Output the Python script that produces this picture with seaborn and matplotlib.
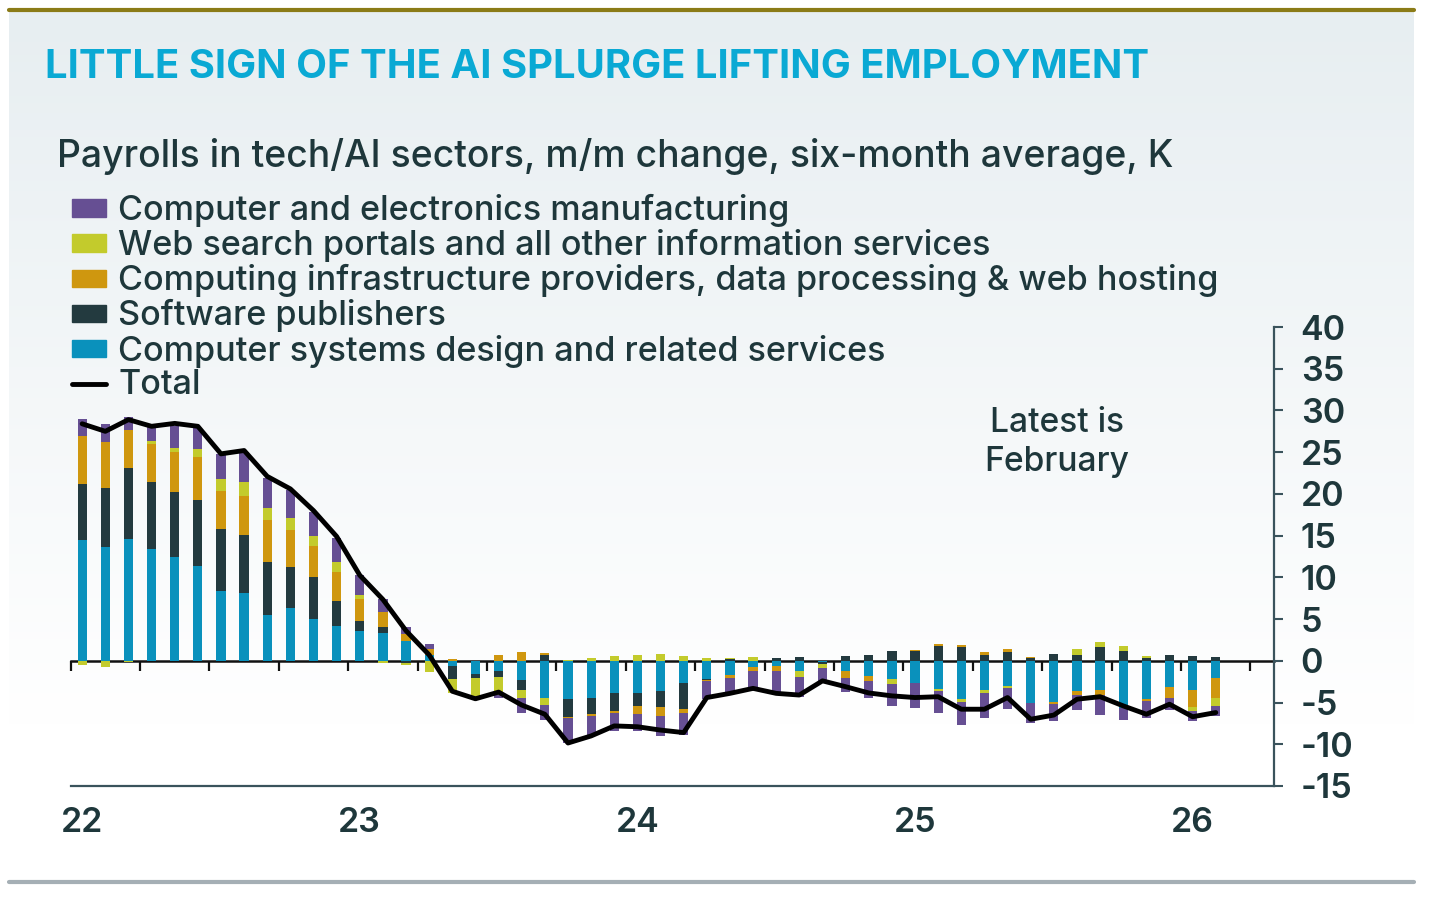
import numpy as np
import pandas as pd
import matplotlib
matplotlib.use("Agg")
import matplotlib.pyplot as plt
import seaborn as sns
from matplotlib.patches import Patch
from matplotlib.lines import Line2D
from matplotlib.colors import LinearSegmentedColormap

# ---------------- data (K, m/m change, six-month average) ----------------
months = pd.period_range("2022-01", "2026-02", freq="M")
year_labels = ["22", "23", "24", "25", "26"]

systems_design = [14.5, 13.6, 14.6, 13.4, 12.5, 11.4, 8.35, 8.1, 5.45, 6.3,
                  5.0, 4.2, 3.6, 3.3, 2.4, 0.75, -0.67, -1.54, -1.26, -2.25,
                  -4.4, -4.6, -4.5, -3.8, -3.9, -3.64, -2.65, -2.13, -1.66, -0.8,
                  -0.67, -1.2, -0.2, -1.2, -1.86, -2.17, -2.65, -3.4, -4.58, -3.5,
                  -3.0, -5.1, -4.98, -3.64, -3.44, -5.7, -4.62, -3.12, -3.44, -2.0]
software = [6.7, 7.1, 8.5, 8.0, 7.7, 7.9, 7.4, 7.0, 6.35, 5.0,
            5.1, 2.95, 1.2, 0.8, -0.28, 0.0, -1.54, -0.51, -0.7, -1.26,
            0.7, -2.1, -1.9, -2.2, -1.5, -1.86, -3.1, -0.12, 0.2, 0.0,
            0.3, 0.4, -0.2, 0.55, 0.75, 1.2, 1.2, 1.8, 1.7, 0.7,
            1.03, 0.28, 0.83, 0.71, 1.7, 1.22, 0.36, 0.75, 0.63, 0.43]
infrastructure = [5.7, 5.5, 4.6, 4.6, 4.8, 5.1, 4.55, 4.65, 5.05, 4.35,
                  3.7, 3.55, 2.65, 1.7, 0.85, 0.67, 0.25, 0.0, 0.75, 1.0,
                  0.25, -0.2, -0.2, -0.24, -0.95, -1.1, -0.5, -0.2, -0.4, -0.4,
                  -0.5, 0.0, 0.0, -0.87, -0.5, 0.0, 0.12, 0.2, 0.24, 0.4,
                  0.4, 0.15, -0.24, -0.47, -0.6, 0.0, -0.2, -1.38, -2.05, -2.5]
web_search = [-0.55, -0.75, -0.2, 0.35, 0.5, 0.95, 1.5, 1.65, 1.5, 1.5,
              1.2, 1.1, 0.45, -0.3, -0.28, -1.34, -1.7, -2.13, -2.1, -0.9,
              -0.87, 0.1, 0.3, 0.6, 0.7, 0.83, 0.55, 0.3, 0.1, 0.43,
              0.0, -0.75, -0.45, 0.0, 0.0, -0.55, 0.0, -0.2, -0.4, -0.4,
              -0.24, 0.0, 0.0, 0.71, 0.6, 0.6, 0.2, 0.0, -0.5, -0.87]
electronics = [2.1, 2.2, 1.5, 1.7, 2.6, 2.5, 3.0, 3.6, 3.55, 3.3,
               2.85, 2.9, 2.4, 1.65, 0.8, 0.6, 0.0, -0.3, -0.4, -1.8,
               -1.78, -3.0, -2.45, -2.2, -2.1, -2.45, -2.6, -2.1, -1.9, -2.4,
               -2.8, -2.4, -1.6, -1.66, -2.05, -2.65, -2.96, -2.65, -2.7, -3.0,
               -2.53, -2.37, -1.98, -1.78, -2.45, -1.38, -1.98, -1.38, -1.26, -1.19]
total = [28.4, 27.5, 28.9, 28.1, 28.45, 28.1, 24.8, 25.2, 22.1, 20.6,
         18.0, 14.9, 10.25, 7.35, 3.6, 0.7, -3.65, -4.55, -3.75, -5.3,
         -6.4, -9.85, -9.0, -7.8, -7.9, -8.3, -8.6, -4.4, -3.9, -3.3,
         -3.9, -4.1, -2.4, -3.1, -3.85, -4.2, -4.4, -4.3, -5.8, -5.8,
         -4.4, -7.0, -6.5, -4.6, -4.3, -5.4, -6.4, -5.2, -6.7, -6.2]

names = {
    "electronics": "Computer and electronics manufacturing",
    "web": "Web search portals and all other information services",
    "infra": "Computing infrastructure providers, data processing & web hosting",
    "software": "Software publishers",
    "systems": "Computer systems design and related services",
}
colors = {
    "electronics": "#664F93",
    "web": "#C3CB2C",
    "infra": "#CF970F",
    "software": "#233A3F",
    "systems": "#0A91BC",
}

# ---------------- figure ----------------
sns.set_theme(style="white")
plt.rcParams["font.family"] = ["Inter", "DejaVu Sans"]
plt.rcParams["axes.unicode_minus"] = False
W, H = 1439, 899
fig = plt.figure(figsize=(W / 100, H / 100), dpi=100, facecolor="white")
TXT = "#1E373B"
WEIGHT = "medium"

# gradient panel background
bg = fig.add_axes([9 / W, (H - 880) / H, (1414 - 9) / W, (880 - 12) / H], zorder=0)
grad = np.linspace(0, 1, 256).reshape(-1, 1)
cm = LinearSegmentedColormap.from_list("bg", [(0, "#FFFFFF"), (0.18, "#FFFFFF"), (1, "#E7EEF1")])
bg.imshow(grad, aspect="auto", cmap=cm, origin="lower", extent=[0, 1, 0, 1])
bg.axis("off")

fig.add_artist(Line2D([9 / W, 1414 / W], [1 - 10 / H] * 2, color="#8B7B17", lw=3.0,
                      transform=fig.transFigure))
fig.add_artist(Line2D([9 / W, 1414 / W], [1 - 882 / H] * 2, color="#A5AFB5", lw=3.0,
                      transform=fig.transFigure))

ax = fig.add_axes([70.6 / W, 113 / H, (1273.6 - 70.6) / W, 459 / H], zorder=1)
ax.patch.set_alpha(0)

x = np.arange(len(months))
order = [("systems", systems_design), ("software", software), ("infra", infrastructure),
         ("web", web_search), ("electronics", electronics)]
pos_b = np.zeros(len(x))
neg_b = np.zeros(len(x))
for key, vals in order:
    v = np.asarray(vals, dtype=float)
    p = np.where(v > 0, v, 0.0)
    n = np.where(v < 0, v, 0.0)
    ax.bar(x, p, bottom=pos_b, width=0.4, color=colors[key], linewidth=0)
    ax.bar(x, n, bottom=neg_b, width=0.4, color=colors[key], linewidth=0)
    pos_b += p
    neg_b += n

sns.lineplot(x=x, y=total, color="black", linewidth=3.5, ax=ax, legend=False, zorder=6)

ax.set_xlim(-0.5, len(x) + 1.5)
ax.set_ylim(-15, 40)
ax.grid(False)
for s in ["left", "top"]:
    ax.spines[s].set_visible(False)
SP = "#3A535C"
for s in ["right", "bottom"]:
    ax.spines[s].set_color(SP)
    ax.spines[s].set_linewidth(1.6)

ax.yaxis.tick_right()
ax.set_yticks(np.arange(-15, 41, 5))
ax.tick_params(axis="y", direction="out", length=6.5, width=1.5, color=SP, pad=13,
               labelsize=24.5, labelcolor=TXT, right=True, left=False)
ax.set_xticks(np.arange(0, len(x), 12))
ax.set_xticklabels(year_labels)
ax.tick_params(axis="x", length=0, pad=15, labelsize=24.5, labelcolor=TXT)
for lbl in ax.get_xticklabels() + ax.get_yticklabels():
    lbl.set_fontweight("semibold")
ax.set_xlabel("")
ax.set_ylabel("")

# zero line with quarterly ticks
sec = ax.secondary_xaxis(0, transform=ax.transData)
sec.set_xticks(np.arange(-0.5, len(x) + 1, 3))
sec.tick_params(axis="x", direction="out", length=7, width=1.6, color="#111111",
                labelbottom=False, labeltop=False)
for s in sec.spines.values():
    s.set_color("#111111")
    s.set_linewidth(1.8)

# ---------------- texts ----------------
r = fig.canvas.get_renderer()


def fit(t, target):
    w = t.get_window_extent(r).width
    t.set_fontsize(t.get_fontsize() * target / w)


title = fig.text(45 / W, 1 - 78 / H, "LITTLE SIGN OF THE AI SPLURGE LIFTING EMPLOYMENT",
                 color="#0AA9D4", fontweight="bold", fontsize=26, ha="left", va="baseline")
fit(title, 1103)
sub = fig.text(57 / W, 1 - 167 / H, "Payrolls in tech/AI sectors, m/m change, six-month average, K",
               color=TXT, fontsize=24, fontweight=WEIGHT, ha="left", va="baseline")
fit(sub, 1113)

tmp = fig.text(0, 0, names["infra"], fontsize=22, fontweight=WEIGHT)
fit(tmp, 1098)
leg_fs = tmp.get_fontsize()
_, lp_h, _ = r.get_text_width_height_descent("lp", tmp.get_fontproperties(), False)
tmp.remove()
fs_px = leg_fs * 100 / 72
spacing = (34.0 - lp_h) / fs_px

handles = [Patch(color=colors[k]) for k in ["electronics", "web", "infra", "software", "systems"]]
handles.append(Line2D([], [], color="black", lw=3.5))
labels = [names[k] for k in ["electronics", "web", "infra", "software", "systems"]] + ["Total"]
leg = ax.legend(handles, labels, loc="upper left", bbox_to_anchor=(72 / W, 1 - 194 / H),
                bbox_transform=fig.transFigure, frameon=False,
                prop={"size": leg_fs, "weight": WEIGHT},
                handlelength=34 / fs_px, handleheight=0.4, handletextpad=12 / fs_px,
                labelspacing=spacing, borderpad=0, borderaxespad=0, labelcolor=TXT)

a1 = fig.text(1057 / W, 1 - 432 / H, "Latest is", ha="center", va="baseline", color=TXT,
              fontsize=leg_fs, fontweight=WEIGHT)
a2 = fig.text(1057 / W, 1 - 471 / H, "February", ha="center", va="baseline", color=TXT,
              fontsize=leg_fs, fontweight=WEIGHT)
fit(a2, 145)
a1.set_fontsize(a2.get_fontsize())

fig.savefig("out.png", dpi=100, facecolor="white")
